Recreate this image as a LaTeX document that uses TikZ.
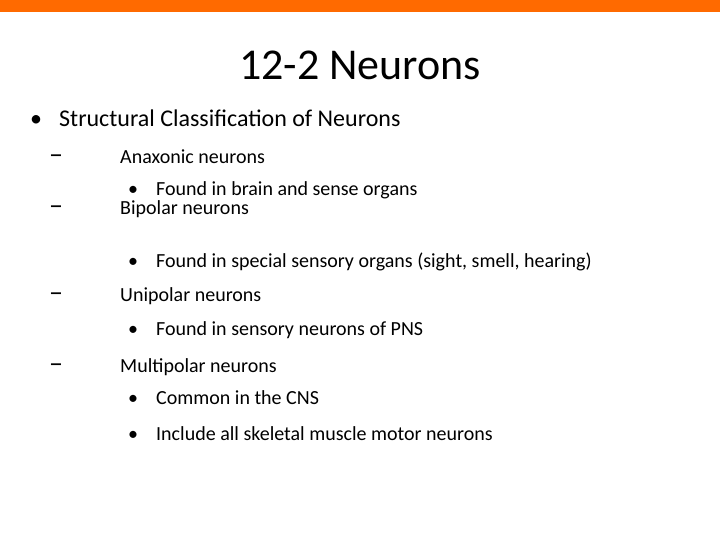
\documentclass[tikz,border=0pt]{standalone}
\usepackage{fontspec}
\setmainfont{Carlito}
\definecolor{bar}{HTML}{FF6A00}
\begin{document}
\begin{tikzpicture}[x=1pt,y=-1pt,
  t/.style={anchor=west,inner sep=0pt},
  l1/.style={t,font=\fontsize{24}{28}\selectfont},
  l2/.style={t,font=\fontsize{20}{24}\selectfont},
  l3/.style={t,font=\fontsize{20}{24}\selectfont},
  dsh/.style={t,font=\fontsize{28}{30}\selectfont}]
\useasboundingbox (0,0) rectangle (720,540);
\fill[bar] (0,0) rectangle (720,12);
\node[font=\fontsize{44}{48}\selectfont,inner sep=0pt] (title) at (360,70) {\strut 12-2 Neurons};
\node[l1] (b0) at (30,121) {\strut•};
\node[l1] (s0) at (59,121) {\strut Structural Classification of Neurons};
\foreach \n/\y/\txt in {a/159/Anaxonic neurons,b/210/Bipolar neurons,c/297/Unipolar neurons,d/368/Multipolar neurons}{
  \node[dsh] (d\n) at (49,\y) {–};
  \node[l2] (h\n) at (120,\y) {\strut\txt};
}
\foreach \n/\y/\txt in {a/191/Found in brain and sense organs,b/263/{Found in special sensory organs (sight, smell, hearing)},c/331/Found in sensory neurons of PNS,d/400/Common in the CNS,e/436/Include all skeletal muscle motor neurons}{
  \node[l3] (p\n) at (128,\y) {\strut•};
  \node[l3] (q\n) at (156,\y) {\strut\txt};
}
\end{tikzpicture}
\end{document}
